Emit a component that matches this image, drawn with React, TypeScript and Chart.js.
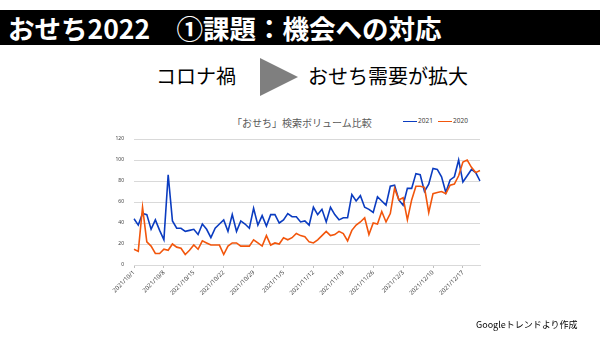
import React, { useEffect, useRef } from 'react';
import { Chart, registerables } from 'chart.js';

Chart.register(...registerables);

// ---- data ----
const DAY_COUNT = 82; // 2021/10/1 .. 2021/12/21
const categories: string[] = Array.from({ length: DAY_COUNT }, (_, i) => {
  const d = new Date(2021, 9, 1 + i);
  return `${d.getFullYear()}/${d.getMonth() + 1}/${d.getDate()}`;
});

const tickLabels = [
  '2021/10/1', '2021/10/8', '2021/10/15', '2021/10/22', '2021/10/29', '2021/11/5',
  '2021/11/12', '2021/11/19', '2021/11/26', '2021/12/3', '2021/12/10', '2021/12/17',
];

const yTicks = [0, 20, 40, 60, 80, 100, 120];

const series2021 = [
  44, 38, 49, 48, 34, 43, 33, 24, 86, 42,
  35, 35, 32, 33, 34, 29, 39, 34, 26, 35,
  39, 43, 32, 48, 32, 42, 39, 35, 54, 38,
  47, 37, 48, 48, 40, 43, 49, 46, 46, 41,
  42, 38, 55, 48, 53, 41, 55, 48, 43, 45,
  45, 67, 61, 66, 55, 53, 50, 65, 61, 57,
  75, 76, 62, 57, 73, 73, 87, 86, 70, 77,
  92, 91, 84, 69, 81, 84, 100, 79, 85, 91,
  88, 80,
];

const series2020 = [
  15, 13, 55, 22, 18, 11, 11, 15, 14, 20,
  17, 16, 10, 14, 19, 15, 23, 21, 19, 19,
  19, 10, 18, 21, 21, 18, 18, 18, 24, 21,
  18, 28, 19, 21, 20, 26, 24, 26, 30, 28,
  27, 22, 21, 24, 28, 32, 28, 29, 32, 30,
  23, 33, 38, 41, 45, 29, 40, 39, 51, 41,
  49, 73, 62, 64, 43, 62, 75, 75, 74, 50,
  68, 69, 70, 68, 76, 77, 85, 98, 100, 93,
  88, 90,
];

const BLUE = '#0B3CC0';
const ORANGE = '#F2560C';
const JP = '"Noto Sans CJK JP", "Noto Sans", sans-serif';

export default function App() {
  const ref = useRef<HTMLCanvasElement>(null);

  useEffect(() => {
    document.body.style.margin = '0';
    const tickSet = new Set(tickLabels);
    const chart = new Chart(ref.current!, {
      type: 'line',
      data: {
        labels: categories,
        datasets: [
          {
            label: '2021',
            data: series2021,
            borderColor: BLUE,
            backgroundColor: BLUE,
            borderWidth: 1.6,
            pointRadius: 0,
            tension: 0,
            order: 1,
          },
          {
            label: '2020',
            data: series2020,
            borderColor: ORANGE,
            backgroundColor: ORANGE,
            borderWidth: 1.6,
            pointRadius: 0,
            tension: 0,
            order: 0,
          },
        ],
      },
      options: {
        animation: false,
        responsive: false,
        layout: { padding: { left: 100, right: 120, top: 139, bottom: 0 } },
        plugins: {
          legend: { display: false },
          title: { display: false },
          tooltip: { enabled: false },
        },
        scales: {
          x: {
            grid: {
              display: true,
              drawOnChartArea: false,
              drawTicks: true,
              tickLength: 3,
              color: '#bfbfbf',
            },
            border: { color: '#d9d9d9' },
            ticks: {
              autoSkip: false,
              maxRotation: 45,
              minRotation: 45,
              padding: 1,
              color: '#404040',
              font: { size: 6, family: '"Noto Sans", sans-serif' },
              callback: (_v: any, i: number) => (tickSet.has(categories[i]) ? categories[i] : null),
            },
            afterFit: (s: any) => {
              s.height = 73;
            },
          },
          y: {
            min: 0,
            max: 120,
            afterBuildTicks: (s: any) => {
              s.ticks = yTicks.map((v) => ({ value: v }));
            },
            ticks: {
              padding: 10,
              color: '#404040',
              font: { size: 5, family: '"Noto Sans", sans-serif' },
            },
            grid: { color: '#d9d9d9', drawTicks: false },
            border: { display: false },
            afterFit: (s: any) => {
              s.width = 34;
            },
          },
        },
      },
    } as any);
    return () => chart.destroy();
  }, []);

  const abs = (extra: React.CSSProperties): React.CSSProperties => ({
    position: 'absolute',
    whiteSpace: 'nowrap',
    ...extra,
  });

  return (
    <div
      style={{
        position: 'fixed',
        left: 0,
        top: 0,
        width: 600,
        height: 338,
        background: '#ffffff',
        overflow: 'hidden',
        fontFamily: JP,
      }}
    >
      {/* header bar */}
      <div style={abs({ left: 0, top: 10, width: 600, height: 35, background: '#000000' })} />
      <div
        style={abs({
          left: 8,
          top: 10,
          height: 35,
          lineHeight: '35px',
          fontSize: 26.5,
          fontWeight: 700,
          color: '#ffffff',
        })}
      >
        おせち2022　①課題：機会への対応
      </div>

      {/* sub heading */}
      <div style={abs({ left: 156, top: 65, fontSize: 20, lineHeight: '22px', color: '#000' })}>コロナ禍</div>
      <div
        style={abs({
          left: 260,
          top: 58,
          width: 0,
          height: 0,
          borderTop: '19.5px solid transparent',
          borderBottom: '19.5px solid transparent',
          borderLeft: '38px solid #7f7f7f',
        })}
      />
      <div style={abs({ left: 308, top: 65, fontSize: 20, lineHeight: '22px', color: '#000' })}>
        おせち需要が拡大
      </div>

      {/* chart title */}
      <div style={abs({ left: 232, top: 117, fontSize: 10, lineHeight: '12px', color: '#595959' })}>
        「おせち」検索ボリューム比較
      </div>

      {/* legend */}
      <div style={abs({ left: 403, top: 120.5, width: 14, height: 1.6, background: BLUE })} />
      <div
        style={abs({
          left: 418,
          top: 117,
          fontSize: 6.5,
          lineHeight: '8px',
          color: '#404040',
          fontFamily: '"Noto Sans", sans-serif',
        })}
      >
        2021
      </div>
      <div style={abs({ left: 438, top: 120.5, width: 14, height: 1.6, background: ORANGE })} />
      <div
        style={abs({
          left: 453,
          top: 117,
          fontSize: 6.5,
          lineHeight: '8px',
          color: '#404040',
          fontFamily: '"Noto Sans", sans-serif',
        })}
      >
        2020
      </div>

      <canvas
        ref={ref}
        width={600}
        height={338}
        style={{ position: 'absolute', left: 0, top: 0, width: 600, height: 338 }}
      />

      {/* footer */}
      <div style={abs({ left: 476, top: 319, fontSize: 9, lineHeight: '11px', color: '#000' })}>
        Googleトレンドより作成
      </div>
    </div>
  );
}
